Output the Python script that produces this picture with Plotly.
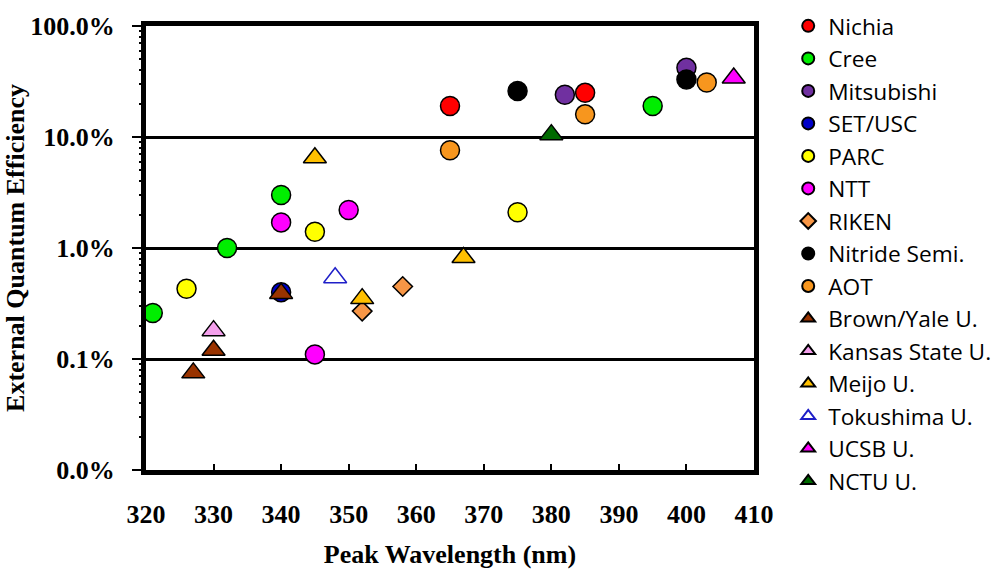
import plotly.graph_objects as go

# ---- data (EQE as fraction) ----
series_names = ["Nichia", "Cree", "Mitsubishi", "SET/USC", "PARC", "NTT", "RIKEN",
                "Nitride Semi.", "AOT", "Brown/Yale U.", "Kansas State U.", "Meijo U.",
                "Tokushima U.", "UCSB U.", "NCTU U."]

nichia_x = [365, 385];            nichia_y = [0.19, 0.25]
cree_x = [321, 332, 340, 395];    cree_y = [0.0026, 0.010, 0.030, 0.19]
mitsubishi_x = [382, 400];        mitsubishi_y = [0.24, 0.42]
setusc_x = [340];                 setusc_y = [0.0040]
parc_x = [326, 345, 375];         parc_y = [0.0043, 0.014, 0.021]
ntt_x = [340, 345, 350];          ntt_y = [0.017, 0.0011, 0.022]
riken_x = [352, 358];             riken_y = [0.0027, 0.0045]
nitride_x = [375, 400];           nitride_y = [0.26, 0.33]
aot_x = [365, 385, 403];          aot_y = [0.076, 0.16, 0.31]
brown_x = [327, 330, 340];        brown_y = [0.00075, 0.0012, 0.0039]
kansas_x = [330];                 kansas_y = [0.0018]
meijo_x = [345, 352, 367];        meijo_y = [0.065, 0.0035, 0.0082]
tokushima_x = [348];              tokushima_y = [0.0054]
ucsb_x = [407];                   ucsb_y = [0.34]
nctu_x = [380];                   nctu_y = [0.105]

xs = [nichia_x, cree_x, mitsubishi_x, setusc_x, parc_x, ntt_x, riken_x, nitride_x,
      aot_x, brown_x, kansas_x, meijo_x, tokushima_x, ucsb_x, nctu_x]
ys = [nichia_y, cree_y, mitsubishi_y, setusc_y, parc_y, ntt_y, riken_y, nitride_y,
      aot_y, brown_y, kansas_y, meijo_y, tokushima_y, ucsb_y, nctu_y]

# minor log ticks (2..9 in each decade)
decades = [1e-4, 1e-3, 1e-2, 1e-1]
minor_mult = [2, 3, 4, 5, 6, 7, 8, 9]
minor_ticks = [d * m for d in decades for m in minor_mult]

# ---- styles ----
symbols = ["circle"] * 6 + ["diamond", "circle", "circle"] + ["triangle-up"] * 6
fills = ["#FF0000", "#00EE00", "#7030A0", "#0000C8", "#FFFF00", "#FF00FF", "#F79646",
         "#000000", "#F7961E", "#993300", "#F4A0EC", "#FFC000", "#FFFFFF", "#FF00FF", "#006A00"]
outlines = ["#000000"] * 12 + ["#1F1FC8", "#000000", "#000000"]
sizes = [19] * 6 + [15, 19, 19] + [20] * 6

fig = go.Figure()
for name, x, y, sym, fc, oc, sz in zip(series_names, xs, ys, symbols, fills, outlines, sizes):
    fig.add_trace(go.Scatter(
        x=x, y=y, mode="markers", name=name,
        marker=dict(symbol=sym, size=sz, color=fc, line=dict(color=oc, width=1.5)),
    ))

axis_font = dict(family="Liberation Serif", size=26, color="black", weight="bold")

fig.update_layout(
    width=999, height=577,
    margin=dict(l=144, r=245, t=17, b=91),
    paper_bgcolor="white", plot_bgcolor="white",
    showlegend=True,
    legend=dict(
        xref="container", yref="container",
        x=0.789, xanchor="left", y=0.992, yanchor="top", maxheight=575,
        font=dict(family="Open Sans", size=22.7, color="black"),
        itemsizing="constant", bgcolor="rgba(0,0,0,0)", borderwidth=0,
    ),
    xaxis=dict(
        range=[320, 410], dtick=10, tick0=320,
        showgrid=False, zeroline=False,
        showline=True, linecolor="black", linewidth=5, mirror=True,
        ticks="inside", ticklen=6, tickwidth=2, tickcolor="black",
        tickfont=axis_font, ticklabelstandoff=17,
        title=dict(text="Peak Wavelength (nm)", font=axis_font, standoff=18),
    ),
    yaxis=dict(
        type="log", range=[-4, 0], dtick=1, tickformat=".1%",
        showgrid=True, gridcolor="black", gridwidth=2.5,
        showline=True, linecolor="black", linewidth=5, mirror=True,
        ticks="outside", ticklen=9, tickwidth=2, tickcolor="black",
        tickfont=axis_font, ticklabelstandoff=12,
        title=dict(text="External Quantum Efficiency", font=axis_font, standoff=0),
    ),
    yaxis2=dict(
        type="log", range=[-4, 0], overlaying="y", side="left",
        tickmode="array", tickvals=minor_ticks, showticklabels=False,
        ticks="outside", ticklen=6, tickwidth=2, tickcolor="black",
        showgrid=False, showline=False, zeroline=False,
    ),
)

# invisible helper trace so the minor-tick axis is drawn
fig.add_trace(go.Scatter(x=[320], y=[1e-4], yaxis="y2", mode="markers",
                         marker=dict(size=0, opacity=0), showlegend=False, hoverinfo="skip"))

fig.write_html("out.html")
